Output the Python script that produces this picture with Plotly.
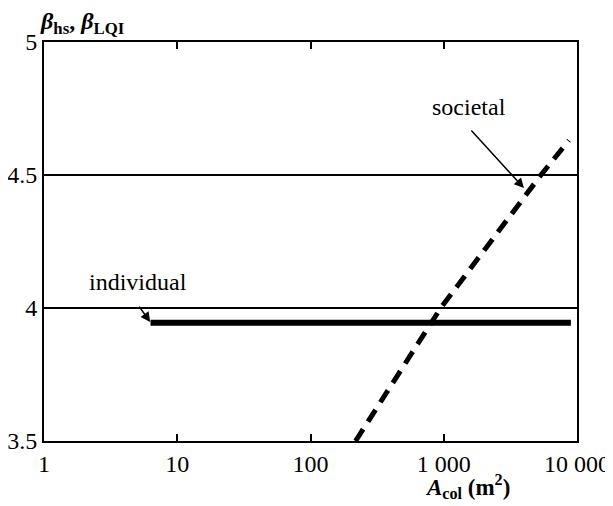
import plotly.graph_objects as go

# Data
ind_x = [6.3, 9000]
ind_y = [3.945, 3.945]

soc_x = [218, 949, 5360, 8700]
soc_y = [3.5, 4.0, 4.5, 4.63]

x_tickvals = [1, 10, 100, 1000, 10000]
x_ticktext = ["1", "10", "100", "1 000", "10 000"]
y_tickvals = [3.5, 4, 4.5, 5]
y_ticktext = ["3.5", "4", "4.5", "5"]

FONT = "Liberation Serif, Times New Roman, serif"
TF = dict(family=FONT, size=24, color="black")

fig = go.Figure()
fig.add_trace(go.Scatter(x=ind_x, y=ind_y, mode="lines",
                         line=dict(color="black", width=6), showlegend=False))
fig.add_trace(go.Scatter(x=soc_x, y=soc_y, mode="lines",
                         line=dict(color="black", width=5, dash="14px,9px"),
                         showlegend=False))

ann = []
# title
ann.append(dict(xref="paper", yref="paper", x=0, y=1, xanchor="left", yanchor="bottom",
                xshift=-6, yshift=2, showarrow=False,
                text="<b><i>β</i><sub>hs</sub>, <i>β</i><sub>LQI</sub></b>",
                font=TF))
# x axis label
ann.append(dict(xref="paper", yref="paper", x=0.794, y=0, xanchor="center", yanchor="top",
                yshift=-28, showarrow=False,
                text="<b><i>A</i><sub>col</sub> (m<sup>2</sup>)</b>",
                font=dict(family=FONT, size=23, color="black")))
# labels
ann.append(dict(x=0.707, y=4.098, xref="x", yref="y", text="individual", showarrow=False,
                font=TF))
ann.append(dict(x=3.188, y=4.756, xref="x", yref="y", text="societal", showarrow=False,
                font=TF))
# arrows
ann.append(dict(x=0.797, y=3.947, xref="x", yref="y", text="", showarrow=True,
                ax=-12, ay=-17, arrowhead=2, arrowsize=1.3, arrowwidth=1.5,
                arrowcolor="black"))
ann.append(dict(x=3.602, y=4.451, xref="x", yref="y", text="", showarrow=True,
                ax=-54, ay=-59, arrowhead=2, arrowsize=1.3, arrowwidth=1.5,
                arrowcolor="black"))

fig.update_layout(
    width=605, height=498,
    margin=dict(l=36, r=36, t=34, b=65),
    paper_bgcolor="white", plot_bgcolor="white",
    font=TF,
    annotations=ann,
    showlegend=False,
)
fig.update_xaxes(type="log", range=[0, 4], tickvals=x_tickvals, ticktext=x_ticktext,
                 tickfont=TF,
                 ticks="inside", ticklen=7, tickwidth=1.5, tickcolor="black",
                 showline=True, linecolor="black", linewidth=2, mirror="ticks",
                 showgrid=False, zeroline=False, automargin=False)
fig.update_yaxes(range=[3.5, 5], tickvals=y_tickvals, ticktext=y_ticktext,
                 tickfont=TF,
                 ticks="", showline=True, linecolor="black", linewidth=2, mirror=True,
                 showgrid=True, gridcolor="black", gridwidth=1.5, zeroline=False,
                 automargin=False)

fig.write_html("out.html")
